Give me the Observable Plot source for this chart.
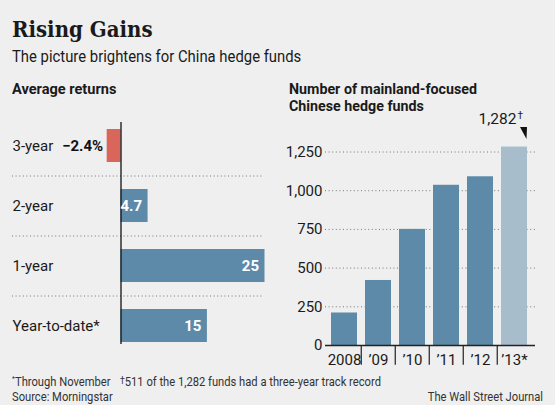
<!DOCTYPE html>
<html><head><meta charset="utf-8">
<script src="https://cdn.jsdelivr.net/npm/d3@7"></script>
<script src="https://cdn.jsdelivr.net/npm/@observablehq/plot@0.6"></script>
<style>
body{margin:0;background:#efefef;}
#c{position:relative;width:555px;height:405px;background:#efefef;font-family:"Roboto",sans-serif;color:#1a1a1a;overflow:hidden}
.t{position:absolute;white-space:nowrap;line-height:1;transform-origin:0 0}
.f{font-size:13px;color:#333;transform:scaleX(0.86)}
#c svg{position:absolute;overflow:visible}
</style></head><body><div id="c">
<div class="t" style="left:12px;top:18px;font-family:'DejaVu Serif Condensed','Liberation Serif',serif;font-weight:bold;font-size:22px;">Rising Gains</div>
<div class="t" style="left:12px;top:49px;font-size:16.5px;transform:scaleX(0.9)">The picture brightens for China hedge funds</div>
<div class="t" style="left:12px;top:82px;font-size:15.5px;font-weight:bold;transform:scaleX(0.94)">Average returns</div>
<div class="t" style="left:289px;top:81px;font-size:15.5px;font-weight:bold;line-height:16.5px;transform:scaleX(0.92)">Number of mainland-focused<br>Chinese hedge funds</div>
<div class="t f" style="left:12px;top:375px;"><sup style="font-size:8px">*</sup>Through November</div>
<div class="t f" style="left:120px;top:375px;"><span style="font-size:10px;vertical-align:2px">†</span>511 of the 1,282 funds had a three-year track record</div>
<div class="t f" style="left:12px;top:390px;">Source: Morningstar</div>
<div class="t f" style="right:12px;top:390px;transform-origin:100% 0">The Wall Street Journal</div>
<div id="left"></div><div id="right"></div>
</div>
<script>
const returnCats = ["3-year", "2-year", "1-year", "Year-to-date*"];
const returnVals = [-2.4, 4.7, 25, 15];
const returnLabels = ["−2.4%", "4.7", "25", "15"];
const years = ["2008", "’09", "’10", "’11", "’12", "’13*"];
const fundCounts = [210, 420, 750, 1035, 1090, 1282];
const yTicks = [0, 250, 500, 750, 1000, 1250];
const annotationText = "1,282";

const FONT = '"Roboto",sans-serif';
const BLUE = "#5d8aa8", LIGHT = "#a8bdcc", RED = "#d9665b";

const ret = returnCats.map((c, i) => ({cat: c, v: returnVals[i], label: returnLabels[i]}));
const left = Plot.plot({
  width: 280, height: 240,
  marginLeft: 12, marginRight: 17, marginTop: 7, marginBottom: 11,
  style: {background: "transparent", fontFamily: FONT, fontSize: "15px", color: "#1a1a1a"},
  x: {domain: [0, 25], range: [120.5, 264.5], axis: null},
  y: {domain: returnCats, range: [0, 240], paddingInner: 0.45, paddingOuter: 0.225, axis: null},
  marks: [
    Plot.ruleY(returnCats.slice(0, 3), {y: d => d, dy: 30, stroke: "#777", strokeDasharray: "1,2.6"}),
    Plot.barX(ret, {x: "v", y: "cat", fill: d => d.v < 0 ? RED : BLUE}),
    Plot.ruleX([0], {stroke: "#111", strokeWidth: 1.3}),
    Plot.text(ret, {y: "cat", text: "cat", frameAnchor: "left", textAnchor: "start", fontSize: 15}),
    Plot.text(ret.filter(d => d.v > 0), {x: "v", y: "cat", text: "label", textAnchor: "end", dx: -6, fill: "white", fontWeight: "bold", fontSize: 15}),
    Plot.text(ret.filter(d => d.v < 0), {x: "v", y: "cat", text: "label", textAnchor: "end", dx: -4, fill: "#111", fontWeight: "bold", fontSize: 15})
  ]
});
left.style.left = "0px"; left.style.top = "115px";
document.getElementById("left").appendChild(left);

const funds = years.map((y, i) => ({year: y, n: fundCounts[i]}));
const step = (252 - 45) / 6;
const corner = {draw(ctx) { ctx.moveTo(-3.5, -6); ctx.lineTo(3.5, -6); ctx.lineTo(3, 6); ctx.closePath(); }};
const right = Plot.plot({
  width: 275, height: 265,
  marginLeft: 45, marginRight: 20, marginTop: 10, marginBottom: 35,
  style: {background: "transparent", fontFamily: FONT, fontSize: "15px", color: "#1a1a1a"},
  x: {domain: years, range: [45, 252], paddingInner: 0.24, paddingOuter: 0.12},
  y: {domain: [0, 1250], range: [230, 36.5]},
  marks: [
    Plot.ruleY(yTicks.slice(1), {stroke: "#777", strokeDasharray: "1,2.6"}),
    Plot.barY(funds, {x: "year", y: "n", fill: d => d.year === "’13*" ? LIGHT : BLUE}),
    Plot.ruleY([0], {stroke: "#222", strokeWidth: 1.3}),
    Plot.ruleX(years.slice(1), {x: d => d, y1: 0, y2: -128, dx: -step / 2, stroke: "#222", strokeWidth: 1.2}),
    Plot.axisY({ticks: yTicks, tickSize: 0, tickPadding: 3, tickFormat: d3.format(","), fontSize: 15, label: null}),
    Plot.axisX({tickSize: 0, tickPadding: 9, fontSize: 15, label: null}),
    Plot.text(funds.slice(-1), {x: "year", y: "n", text: () => annotationText, textAnchor: "end", dx: 2, dy: -28, fontSize: 15.5}),
    Plot.text(funds.slice(-1), {x: "year", y: "n", text: () => "†", textAnchor: "start", dx: 3, dy: -31, fontSize: 10}),
    Plot.dot(funds.slice(-1), {x: "year", y: "n", symbol: corner, fill: "#111", stroke: null, dx: 9, dy: -14, r: 4})
  ]
});
right.style.left = "280px"; right.style.top = "115px";
document.getElementById("right").appendChild(right);
</script>
</body></html>
